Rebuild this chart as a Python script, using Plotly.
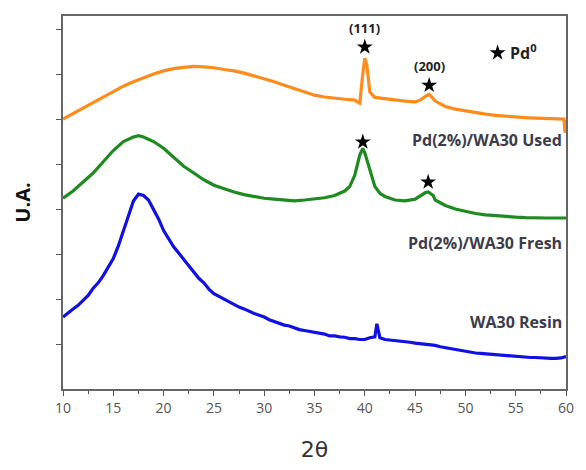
import plotly.graph_objects as go

# ---- data ----
resin_x = [10,10.5,11,11.5,12,12.5,13,13.5,14,14.5,15,15.5,16,16.5,17,17.5,18,18.5,19,19.5,20,20.5,21,21.5,22,22.5,23,23.5,24,24.5,25,25.5,26,26.5,27,27.5,28,28.5,29,29.5,30,30.5,31,31.5,32,32.5,33,33.5,34,34.5,35,35.5,36,36.5,37,37.5,38,38.5,39,39.5,40,40.5,41,41.2,41.5,42,42.5,43,43.5,44,44.5,45,45.5,46,46.5,47,47.5,48,48.5,49,49.5,50,50.5,51,51.5,52,52.5,53,53.5,54,54.5,55,55.5,56,56.5,57,57.5,58,58.5,59,59.5,60]
resin_y = [1.60,1.70,1.78,1.86,1.98,2.08,2.24,2.36,2.52,2.70,2.90,3.18,3.50,3.86,4.18,4.33,4.30,4.20,4.00,3.78,3.52,3.34,3.16,3.02,2.88,2.76,2.62,2.46,2.36,2.22,2.12,2.06,1.98,1.92,1.88,1.82,1.78,1.72,1.68,1.64,1.60,1.54,1.50,1.46,1.42,1.40,1.36,1.32,1.30,1.28,1.25,1.24,1.22,1.18,1.18,1.16,1.15,1.12,1.12,1.10,1.10,1.14,1.16,1.45,1.14,1.10,1.09,1.08,1.06,1.05,1.04,1.02,1.01,1.00,0.98,0.97,0.94,0.92,0.90,0.88,0.85,0.83,0.82,0.80,0.79,0.78,0.77,0.76,0.75,0.74,0.73,0.72,0.72,0.71,0.70,0.70,0.69,0.69,0.68,0.68,0.69,0.72]

fresh_x = [10,11,12,13,14,15,16,17,17.5,18,19,20,21,22,23,24,25,26,27,28,29,30,31,32,33,34,35,36,37,38,38.5,39,39.5,39.8,40,40.5,41,41.5,42,43,44,45,45.5,46,46.3,46.8,47,48,49,50,51,52,53,54,55,56,57,58,59,60]
fresh_y = [4.24,4.40,4.60,4.80,5.05,5.30,5.50,5.60,5.63,5.60,5.50,5.35,5.15,4.95,4.80,4.65,4.53,4.45,4.38,4.32,4.28,4.24,4.22,4.20,4.18,4.20,4.22,4.25,4.30,4.40,4.50,4.75,5.20,5.35,5.25,4.85,4.50,4.35,4.28,4.20,4.18,4.22,4.30,4.36,4.38,4.30,4.20,4.08,4.00,3.95,3.90,3.87,3.85,3.83,3.82,3.81,3.80,3.80,3.80,3.80]

used_x = [10,11,12,13,14,15,16,17,18,19,20,21,22,23,24,25,26,27,28,29,30,31,32,33,34,35,36,37,38,39,39.5,39.8,40,40.2,40.5,41,42,43,44,45,45.5,46,46.4,47,48,49,50,51,52,53,54,55,56,57,58,59,59.8,59.9,60]
used_y = [6.00,6.12,6.25,6.37,6.50,6.62,6.73,6.83,6.92,7.00,7.07,7.12,7.15,7.17,7.16,7.14,7.10,7.07,7.02,6.96,6.90,6.83,6.75,6.68,6.60,6.53,6.49,6.46,6.44,6.42,6.35,7.00,7.35,7.20,6.60,6.48,6.45,6.43,6.40,6.38,6.42,6.50,6.55,6.40,6.28,6.22,6.18,6.14,6.11,6.08,6.06,6.04,6.03,6.02,6.01,6.00,6.00,5.70,5.98]

star_x = [40.0, 46.4, 39.8, 46.3, 53.2]
star_y = [7.60, 6.75, 5.49, 4.60, 7.47]
peak_labels = ["(111)", "(200)"]
peak_label_x = [40.0, 46.4]
peak_label_y = [8.02, 7.17]

series_names = ["Pd(2%)/WA30 Used", "Pd(2%)/WA30 Fresh", "WA30 Resin"]
series_colors = ["#ff8c1a", "#1f8a1f", "#1010e0"]
label_y = [5.54, 3.25, 1.48]

fig = go.Figure()
for xs, ys, c, n in [(used_x, used_y, series_colors[0], series_names[0]),
                     (fresh_x, fresh_y, series_colors[1], series_names[1]),
                     (resin_x, resin_y, series_colors[2], series_names[2])]:
    fig.add_trace(go.Scatter(x=xs, y=ys, mode="lines", name=n,
                             line=dict(color=c, width=3.2), showlegend=False))

fig.add_trace(go.Scatter(x=star_x, y=star_y, mode="markers",
                         marker=dict(symbol="star", size=12, color="black"),
                         showlegend=False))

for t, x, y in zip(peak_labels, peak_label_x, peak_label_y):
    fig.add_annotation(x=x, y=y, text=f"<b>{t}</b>", showarrow=False,
                       font=dict(family="Open Sans", size=13, color="#222"))

fig.add_annotation(x=54.2, y=7.5, text="<b>Pd<sup>0</sup></b>", showarrow=False,
                   xanchor="left", font=dict(family="Open Sans", size=16, color="#222"))

for n, y in zip(series_names, label_y):
    fig.add_annotation(x=60, y=y, text=f"<b>{n}</b>", showarrow=False, xanchor="right",
                       xshift=-2,
                       font=dict(family="Open Sans", size=16, color="#3c3c4c"))

fig.update_layout(
    width=586, height=470,
    margin=dict(l=63, r=13, t=16, b=77),
    plot_bgcolor="white", paper_bgcolor="white",
    xaxis=dict(range=[10, 60], tickvals=[10,15,20,25,30,35,40,45,50,55,60],
               ticks="outside", ticklen=5, tickcolor="#555",
               minor=dict(dtick=2.5, tick0=10, ticks="outside", ticklen=3, tickcolor="#555"),
               showline=True, linecolor="#666", linewidth=1.5, mirror=True,
               showgrid=False, zeroline=False,
               tickfont=dict(family="Open Sans", size=14, color="#555"),
               title=dict(text="2θ", font=dict(family="DejaVu Sans", size=22, color="#333"), standoff=26)),
    yaxis=dict(range=[0, 8.29], tickvals=[1,2,3,4,5,6,7,8], showticklabels=False,
               ticks="outside", ticklen=5, tickcolor="#555",
               showline=True, linecolor="#666", linewidth=1.5, mirror=True,
               showgrid=False, zeroline=False,
               title=dict(text="<b>U.A.</b>", font=dict(family="Open Sans", size=20, color="#111"), standoff=20)),
)

fig.write_html("out.html")
